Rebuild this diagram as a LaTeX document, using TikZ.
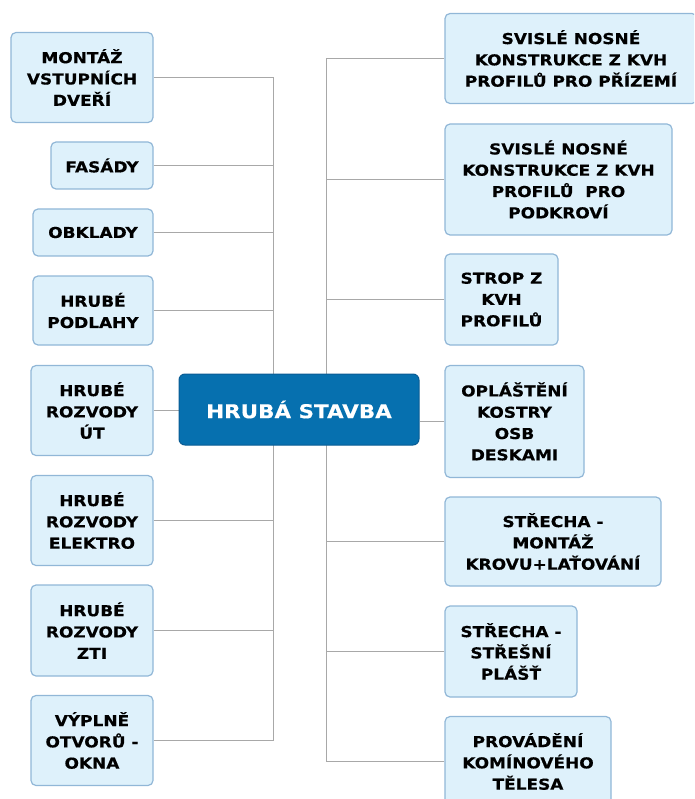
\documentclass[tikz,border=0pt]{standalone}
\usepackage{fontspec}
\setmainfont[FakeStretch=1.13, BoldFeatures={FakeBold=0.5}]{DejaVu Sans}
\usetikzlibrary{backgrounds}
\definecolor{leafFill}{RGB}{222,241,251}
\definecolor{leafEdge}{RGB}{145,183,215}
\definecolor{rootFill}{RGB}{6,112,175}
\definecolor{rootEdge}{RGB}{10,92,148}
\definecolor{linkGray}{RGB}{168,168,168}
\tikzset{
  leaf/.style={draw=leafEdge, fill=leafFill, line width=1.2pt, rounded corners=5pt,
    align=center, inner sep=0pt, text=black,
    font=\bfseries\fontsize{15}{21.3}\selectfont},
  root/.style={draw=rootEdge, fill=rootFill, line width=1pt, rounded corners=6pt,
    align=center, inner sep=0pt, text=white,
    font=\bfseries\fontsize{19}{23}\selectfont},
  link/.style={draw=linkGray, line width=1.5pt}
}
\begin{document}
\begin{tikzpicture}[x=1pt,y=-1pt]
\useasboundingbox (0,0) rectangle (694,799);
\clip (0,0) rectangle (694,799);

% central topic
\node[root, minimum width=240pt, minimum height=71pt] (c) at (299,409.5) {HRUBÁ STAVBA};

% left branch
\node[leaf, minimum width=142pt, minimum height=90pt] (l1) at (82,77.5) {MONTÁŽ\\VSTUPNÍCH\\DVEŘÍ};
\node[leaf, minimum width=102pt, minimum height=47pt] (l2) at (102,165.5) {FASÁDY};
\node[leaf, minimum width=120pt, minimum height=47pt] (l3) at (93,232.5) {OBKLADY};
\node[leaf, minimum width=120pt, minimum height=69pt] (l4) at (93,310.5) {HRUBÉ\\PODLAHY};
\node[leaf, minimum width=122pt, minimum height=90pt] (l5) at (92,410.5) {HRUBÉ\\ROZVODY\\ÚT};
\node[leaf, minimum width=122pt, minimum height=90pt] (l6) at (92,520.5) {HRUBÉ\\ROZVODY\\ELEKTRO};
\node[leaf, minimum width=122pt, minimum height=91pt] (l7) at (92,630.5) {HRUBÉ\\ROZVODY\\ZTI};
\node[leaf, minimum width=122pt, minimum height=90pt] (l8) at (92,740.5) {VÝPLNĚ\\OTVORŮ -\\OKNA};

% right branch
\node[leaf, minimum width=252pt, minimum height=90pt] (r1) at (571,58.5) {SVISLÉ NOSNÉ\\KONSTRUKCE Z KVH\\PROFILŮ PRO PŘÍZEMÍ};
\node[leaf, minimum width=227pt, minimum height=111pt] (r2) at (558.5,179.5) {SVISLÉ NOSNÉ\\KONSTRUKCE Z KVH\\PROFILŮ\ \ PRO\\PODKROVÍ};
\node[leaf, minimum width=113pt, minimum height=91pt] (r3) at (501.5,299.5) {STROP Z\\KVH\\PROFILŮ};
\node[leaf, minimum width=139pt, minimum height=112pt] (r4) at (514.5,421.5) {OPLÁŠTĚNÍ\\KOSTRY\\OSB\\DESKAMI};
\node[leaf, minimum width=216pt, minimum height=89pt] (r5) at (553,541.5) {STŘECHA -\\MONTÁŽ\\KROVU+LAŤOVÁNÍ};
\node[leaf, minimum width=132pt, minimum height=91pt] (r6) at (511,651.5) {STŘECHA -\\STŘEŠNÍ\\PLÁŠŤ};
\node[leaf, minimum width=166pt, minimum height=90pt] (r7) at (528,761.5) {PROVÁDĚNÍ\\KOMÍNOVÉHO\\TĚLESA};

% junction columns of the two trunks
\coordinate (jl) at (273.5,0);
\coordinate (jr) at (326.5,0);

\begin{scope}[on background layer]
  \draw[link] (l1.east -| jl) -- (l8.east -| jl);
  \draw[link] (r1.west -| jr) -- (r7.west -| jr);
  \foreach \n in {l1,l2,l3,l4,l6,l7,l8}
    \draw[link] (\n.east) -- (\n.east -| jl);
  \foreach \n in {r1,r2,r3,r5,r6,r7}
    \draw[link] (\n.west) -- (\n.west -| jr);
  \draw[link] (l5.east) -- (l5.east -| c.west);
  \draw[link] (r4.west) -- (r4.west -| c.east);
\end{scope}
\end{tikzpicture}
\end{document}
